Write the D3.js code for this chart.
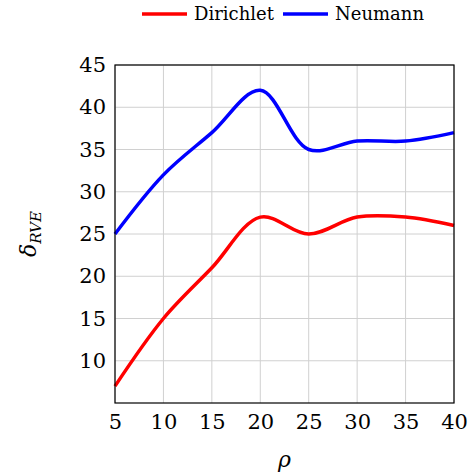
<!DOCTYPE html>
<html>
<head>
<meta charset="utf-8">
<script src="https://cdn.jsdelivr.net/npm/d3@7"></script>
<style>
  body { margin: 0; background: #fff; }
  svg text { font-family: "DejaVu Serif", serif; }
</style>
</head>
<body>
<script>
var rho = [5, 10, 15, 20, 25, 30, 35, 40];
var dirichlet = [7, 15, 21, 27, 25, 27, 27, 26];
var neumann = [25, 32, 37, 42, 35, 36, 36, 37];
var xTicks = [5, 10, 15, 20, 25, 30, 35, 40];
var yTicks = [10, 15, 20, 25, 30, 35, 40, 45];

var w = 468, h = 474;
var mLeft = 115, mRight = 454, mTop = 65, mBottom = 403;
var serif = "'DejaVu Serif', serif";

var svg = d3.select("body").append("svg")
    .attr("width", w)
    .attr("height", h);

var x = d3.scaleLinear().domain([5, 40]).range([mLeft, mRight]);
var y = d3.scaleLinear().domain([5, 45]).range([mBottom, mTop]);

// grid
svg.append("g").selectAll("line").data(xTicks).enter().append("line")
    .attr("x1", d => x(d)).attr("x2", d => x(d))
    .attr("y1", mTop).attr("y2", mBottom)
    .attr("stroke", "#d0d0d0").attr("stroke-width", 1);
svg.append("g").selectAll("line").data(yTicks).enter().append("line")
    .attr("y1", d => y(d)).attr("y2", d => y(d))
    .attr("x1", mLeft).attr("x2", mRight)
    .attr("stroke", "#d0d0d0").attr("stroke-width", 1);

// curves
var line = d3.line()
    .x((d, i) => x(rho[i]))
    .y(d => y(d))
    .curve(d3.curveCatmullRom.alpha(0.5));

svg.append("path").datum(dirichlet)
    .attr("d", line)
    .attr("fill", "none").attr("stroke", "#ff0000").attr("stroke-width", 3.5);
svg.append("path").datum(neumann)
    .attr("d", line)
    .attr("fill", "none").attr("stroke", "#0000ff").attr("stroke-width", 3.5);

// frame
svg.append("rect")
    .attr("x", mLeft).attr("y", mTop)
    .attr("width", mRight - mLeft).attr("height", mBottom - mTop)
    .attr("fill", "none").attr("stroke", "#000").attr("stroke-width", 1.2);

// axes
var xAxis = d3.axisBottom(x).tickValues(xTicks).tickSize(0).tickPadding(11);
var gx = svg.append("g").attr("transform", "translate(0," + mBottom + ")").call(xAxis);
gx.select(".domain").remove();
gx.attr("font-family", serif);
gx.selectAll("text").attr("font-size", "21px").attr("fill", "#000");

var yAxis = d3.axisLeft(y).tickValues(yTicks).tickSize(0).tickPadding(9);
var gy = svg.append("g").attr("transform", "translate(" + mLeft + ",0)").call(yAxis);
gy.select(".domain").remove();
gy.attr("font-family", serif);
gy.selectAll("text").attr("font-size", "21px").attr("fill", "#000");

// axis labels
svg.append("text")
    .attr("x", (mLeft + mRight) / 2).attr("y", 467)
    .attr("text-anchor", "middle")
    .attr("font-size", "22px").attr("font-style", "italic")
    .text("ρ");

var yl = svg.append("text")
    .attr("transform", "translate(36," + ((mTop + mBottom) / 2) + ") rotate(-90)")
    .attr("text-anchor", "middle")
    .attr("font-size", "22px").attr("font-style", "italic");
yl.append("tspan").text("δ");
yl.append("tspan").attr("font-size", "15px").attr("dy", 5).text("RVE");

// legend
var legend = [["Dirichlet", "#ff0000", 142], ["Neumann", "#0000ff", 283]];
legend.forEach(function (l) {
    svg.append("line")
        .attr("x1", l[2]).attr("x2", l[2] + 45)
        .attr("y1", 14).attr("y2", 14)
        .attr("stroke", l[1]).attr("stroke-width", 3.5);
    svg.append("text")
        .attr("x", l[2] + 52).attr("y", 20)
        .attr("font-size", "18px")
        .text(l[0]);
});
</script>
</body>
</html>
